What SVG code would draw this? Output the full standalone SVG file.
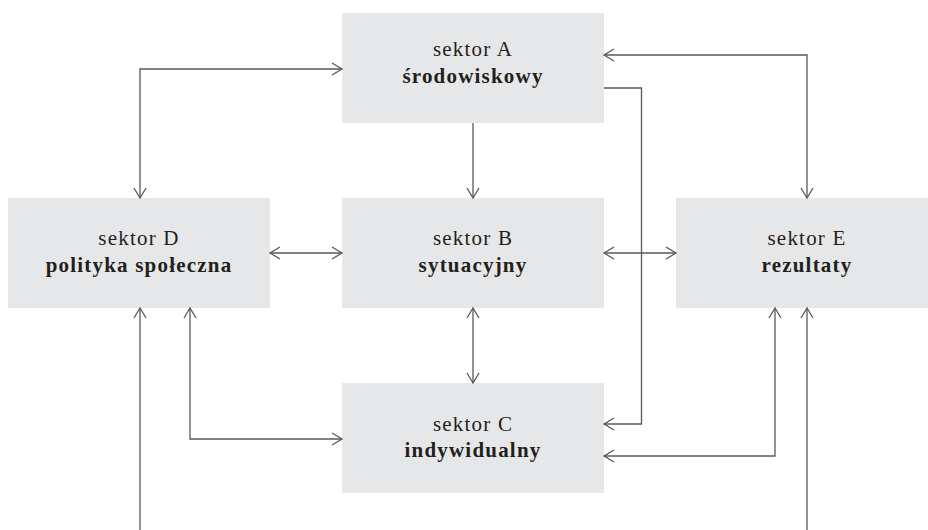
<svg xmlns="http://www.w3.org/2000/svg" width="928" height="530" viewBox="0 0 928 530">
  <defs>
    <marker id="arr" markerUnits="userSpaceOnUse" markerWidth="14" markerHeight="14" viewBox="-12 -7 14 14" refX="0" refY="0" orient="auto-start-reverse">
      <path d="M-10,-6 L0,0 L-10,6" fill="none" stroke="#58595b" stroke-width="1.3"/>
    </marker>
  </defs>
  <style>
    .box { fill: #e6e7e8; }
    .t { font-family: "Liberation Serif", "DejaVu Serif", serif; font-size: 21px; fill: #231f20; text-anchor: middle; letter-spacing: 1.2px; }
    .b { font-weight: bold; }
    .c { fill: none; stroke: #58595b; stroke-width: 1.3; }
  </style>
  <rect width="928" height="530" fill="#ffffff"/>

  <g id="sektor-a">
    <rect class="box" x="342" y="13" width="262" height="110"/>
    <text class="t" x="473" y="56">sektor A</text>
    <text class="t b" x="473" y="83">środowiskowy</text>
  </g>
  <g id="sektor-d">
    <rect class="box" x="8" y="198" width="262" height="110"/>
    <text class="t" x="139" y="245">sektor D</text>
    <text class="t b" x="139" y="272">polityka społeczna</text>
  </g>
  <g id="sektor-b">
    <rect class="box" x="342" y="198" width="262" height="110"/>
    <text class="t" x="473" y="245">sektor B</text>
    <text class="t b" x="473" y="272">sytuacyjny</text>
  </g>
  <g id="sektor-e">
    <rect class="box" x="676" y="198" width="262" height="110"/>
    <text class="t" x="807" y="245">sektor E</text>
    <text class="t b" x="807" y="272">rezultaty</text>
  </g>
  <g id="sektor-c">
    <rect class="box" x="342" y="383" width="262" height="110"/>
    <text class="t" x="473" y="431">sektor C</text>
    <text class="t b" x="473" y="457">indywidualny</text>
  </g>

  <g id="connectors">
    <path class="c" d="M342,69 H140 V198" marker-start="url(#arr)" marker-end="url(#arr)"/>
    <path class="c" d="M473,123 V198" marker-end="url(#arr)"/>
    <path class="c" d="M604,88 H641.5 V424 H604" marker-end="url(#arr)"/>
    <path class="c" d="M604,55 H807 V198" marker-start="url(#arr)" marker-end="url(#arr)"/>
    <path class="c" d="M270,253 H342" marker-start="url(#arr)" marker-end="url(#arr)"/>
    <path class="c" d="M604,253 H676" marker-start="url(#arr)" marker-end="url(#arr)"/>
    <path class="c" d="M473,308 V383" marker-start="url(#arr)" marker-end="url(#arr)"/>
    <path class="c" d="M140,530 V308" marker-end="url(#arr)"/>
    <path class="c" d="M190,308 V439 H342" marker-start="url(#arr)" marker-end="url(#arr)"/>
    <path class="c" d="M775,308 V456 H604" marker-start="url(#arr)" marker-end="url(#arr)"/>
    <path class="c" d="M807,530 V308" marker-end="url(#arr)"/>
  </g>
</svg>
